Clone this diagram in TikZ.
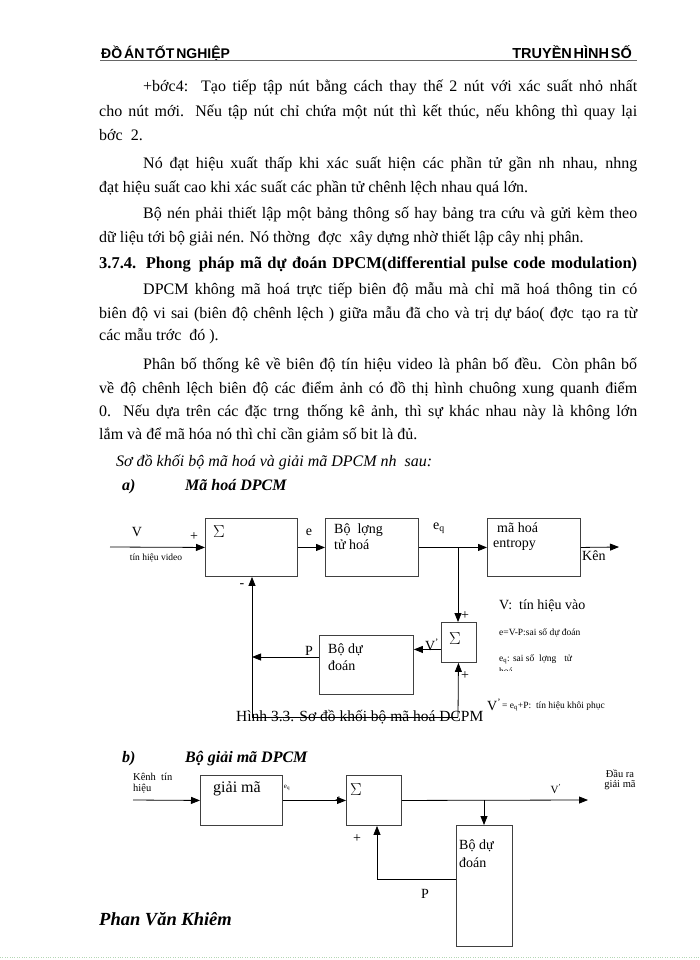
\documentclass[tikz,border=0pt]{standalone}
\usepackage{fontspec}
\setmainfont{Liberation Serif}
\setsansfont{Liberation Sans}
\usetikzlibrary{arrows.meta,calc,positioning}

\newcommand{\gp}{\hspace{8pt}}
\newcommand{\jline}[2]{\hbox to #1pt{\spaceskip=0.25em plus 0.5em minus 0.1em #2}}
\newcommand{\fsz}[1]{\fontsize{#1}{#1}\selectfont}

\begin{document}
\begin{tikzpicture}[x=1pt,y=-1pt,
  arr/.style={-{Triangle[length=9pt,width=7pt]}},
  body/.style={anchor=base west,inner sep=0,font=\fsz{16}},
  blk/.style={draw=black!75,line width=.9pt,anchor=north west,inner sep=0},
  lbl/.style={inner sep=0,font=\fsz{14}},
  small lbl/.style={inner sep=0,font=\fsz{9.5}},
  wire/.style={line width=.8pt,black}]
\useasboundingbox (0,0) rectangle (700,960);

% header
\node[anchor=base west,inner sep=0,font=\sffamily\bfseries\fsz{14}] (hdl) at (101,59) {\spaceskip=.14em ĐỒ ÁN TỐT NGHIỆP};
\node[anchor=base east,inner sep=0,font=\sffamily\bfseries\fsz{14.5}] (hdr) at (632,59) {\spaceskip=.12em TRUYỀN HÌNH SỐ};
\draw[black!60,line width=1.4pt] (100,60.5) -- (637,60.5);

% body text
\node[body] (p1) at (143,92) {\jline{494}{+bớc4:\ \ Tạo tiếp tập nút bằng cách thay thế 2 nút với xác suất nhỏ nhất}};
\node[body] (p2) at (99,117) {\jline{538}{cho nút mới. Nếu tập nút chỉ chứa một nút thì kết thúc, nếu không thì quay lại}};
\node[body] (p3) at (99,141) {bớc\gp 2.};
\node[body] (p4) at (143,169) {\jline{494}{Nó đạt hiệu xuất thấp khi xác suất hiện các phần tử gần nh\gp nhau, nhng}};
\node[body] (p5) at (99,193) {đạt hiệu suất cao khi xác suất các phần tử chênh lệch nhau quá lớn.};
\node[body] (p6) at (143,218) {\jline{494}{Bộ nén phải thiết lập một bảng thông số hay bảng tra cứu và gửi kèm theo}};
\node[body] (p7) at (99,242) {dữ liệu tới bộ giải nén. Nó thờng\gp đợc\gp xây dựng nhờ thiết lập cây nhị phân.};
\node[body,font=\fsz{16.5}\bfseries] (hd) at (99,268) {\jline{538}{3.7.4. Phong\gp pháp mã dự đoán DPCM(differential pulse code modulation)}};
\node[body] (p9) at (143,294) {\jline{494}{DPCM không mã hoá trực tiếp biên độ mẫu mà chỉ mã hoá thông tin có}};
\node[body] (p10) at (99,318) {\jline{538}{biên độ vi sai (biên độ chênh lệch ) giữa mẫu đã cho và trị dự báo( đợc\gp tạo ra từ}};
\node[body] (p11) at (99,340) {các mẫu trớc\gp đó ).};
\node[body] (p12) at (143,369) {\jline{494}{Phân bố thống kê về biên độ tín hiệu video là phân bố đều. Còn phân bố}};
\node[body] (p13) at (99,393) {\jline{538}{về độ chênh lệch biên độ các điểm ảnh có đồ thị hình chuông xung quanh điểm}};
\node[body] (p14) at (99,416) {\jline{538}{0. Nếu dựa trên các đặc trng\gp thống kê ảnh, thì sự khác nhau này là không lớn}};
\node[body] (p15) at (99,439) {lắm và để mã hóa nó thì chỉ cần giảm số bit là đủ.};
\node[body,font=\fsz{16}\itshape] (intro) at (116,466) {Sơ đồ khối bộ mã hoá và giải mã DPCM nh\gp sau:};
\node[body,font=\fsz{16}\bfseries\itshape] (ta) at (122,490) {a)};
\node[body,font=\fsz{16}\bfseries\itshape] (tatitle) at (185,490) {Mã hoá DPCM};

% encoder blocks
\node[blk,minimum width=92,minimum height=58] (sumA) at (205,518) {};
\node[blk,minimum width=93,minimum height=58] (quant) at (325,518) {};
\node[blk,minimum width=93,minimum height=58] (entr) at (487,518) {};
\node[blk,minimum width=35,minimum height=40] (sumB) at (440.5,622) {};
\node[blk,minimum width=94,minimum height=59] (predA) at (319,635) {};

\coordinate (vin) at (110,547);
\coordinate (jq) at (458,547);
\coordinate (kout) at (619,547);
\coordinate (fb) at (252,657);
\coordinate (fbb) at (252,717);
\coordinate (sbb) at (458,717);

\draw[wire,arr] (vin) -- (sumA.west);
\draw[wire,arr] (sumA.east) -- (quant.west);
\draw[wire,arr] (quant.east) -- (entr.west);
\draw[wire,arr] (entr.east) -- (kout);
\draw[wire,arr] (jq) -- (jq |- sumB.north);
\draw[wire,arr] ([yshift=-7pt]sumB.west) -- ([yshift=-7pt]sumB.west -| predA.east);
\draw[wire,arr] (fb -| predA.west) -- (fb);
\draw[wire,arr] (fbb) -- (fbb |- sumA.south);
\draw[wire] (fbb) -- (sbb);
\draw[wire,arr] (sbb) -- (sumB.south);

% encoder labels
\node[lbl] (lV) at (137,532) {V};
\node[lbl] (lpa) at (194,537) {+};
\node[small lbl] (lvid) at (156,558) {tín hiệu video};
\node[lbl,font=\fsz{17}] (sgA) at (219,532) {$\Sigma$};
\node[lbl] (le) at (309,532) {e};
\node[lbl,anchor=west] (lq1) at (334,530) {Bộ\ \ lợng};
\node[lbl,anchor=west] (lq2) at (334,545) {tử hoá};
\node[lbl] (leq) at (439,528) {e\textsubscript{q}};
\node[lbl,anchor=west] (le1) at (497,528) {mã hoá};
\node[lbl,anchor=west] (le2) at (493,545) {entropy};
\node[lbl,anchor=west] (lk) at (582,556) {Kên};
\node[lbl] (lmin) at (242,586) {-};
\node[lbl] (lpt) at (465,616) {+};
\node[lbl] (lpb) at (465,676) {+};
\node[lbl] (lvq) at (432,645) {V\textsuperscript{'}};
\node[lbl,font=\fsz{17}] (sgB) at (455,639) {$\Sigma$};
\node[lbl] (lP) at (309,651) {P};
\node[lbl,anchor=west] (lp1) at (328,650) {Bộ dự};
\node[lbl,anchor=west] (lp2) at (328,666) {đoán};

% legend
\node[lbl,anchor=west] (g1) at (499,606) {V:\ \ tín hiệu vào};
\node[small lbl,anchor=west] (g2) at (499,633) {e=V-P:sai số dự đoán};
\node[small lbl,anchor=west] (g3) at (499,659) {e\textsubscript{q}: sai số\ \ lợng\gp tử};
\begin{scope}
\clip (495,665) rectangle (620,670.5);
\node[small lbl,anchor=west] (g3b) at (499,671) {hoá};
\end{scope}
\node[lbl,anchor=west] (g4v) at (487,705) {V\textsuperscript{'}};
\node[small lbl,anchor=west] (g4) at (502,706) {= e\textsubscript{q}+P:\ \ tín hiệu khôi phục};

% caption
\node[body,font=\fsz{15.5}] (cap) at (236,721) {Hình 3.3. Sơ đồ khối bộ mã hoá DCPM};

% decoder
\node[body,font=\fsz{16}\bfseries\itshape] (tb) at (122,762) {b)};
\node[body,font=\fsz{16}\bfseries\itshape] (tbtitle) at (185,762) {Bộ giải mã DPCM};

\node[blk,minimum width=82,minimum height=50] (dec) at (200,775) {};
\node[blk,minimum width=55,minimum height=50] (sumC) at (346,775) {};
\node[blk,minimum width=56,minimum height=121] (predB) at (456,825) {};

\coordinate (kin) at (133,800);
\coordinate (dout) at (588,800);
\coordinate (jd) at (484,800);
\coordinate (fd) at (377,879);

\draw[wire,arr] (kin) -- (dec.west);
\draw[wire,arr] (dec.east) -- (sumC.west);
\draw[wire,arr] (sumC.east) -- (dout);
\draw[wire,arr] (jd) -- (jd |- predB.north);
\draw[wire,arr] (fd -| predB.west) -- (fd) -- (fd |- sumC.south);

\node[small lbl,anchor=west,font=\fsz{10.5}] (k1) at (133,777) {Kênh\ \ tín};
\node[small lbl,anchor=west,font=\fsz{10.5}] (k2) at (133,789) {hiệu};
\node[lbl,font=\fsz{16}] (ldec) at (237,789) {giải mã};
\node[small lbl,font=\fsz{7}] (leq2) at (287,788) {e\textsubscript{q}};
\node[lbl] (lpc) at (339,801) {+};
\node[lbl,font=\fsz{17}] (sgC) at (356,790) {$\Sigma$};
\node[small lbl,font=\fsz{11}] (lvo) at (556,789) {V\textsuperscript{'}};
\node[small lbl,font=\fsz{10.5},align=center] (dout1) at (620,780) {Đầu ra\\giải mã};
\node[lbl] (lpc2) at (357,839) {+};
\node[lbl,anchor=west] (lb1) at (459,846) {Bộ dự};
\node[lbl,anchor=west] (lb2) at (459,863) {đoán};
\node[lbl] (lP2) at (425,894) {P};

% footer
\node[anchor=west,inner sep=0,font=\fsz{18.5}\bfseries\itshape] (ft) at (99,919) {Phan Văn Khiêm};
\draw[dotted,green!30!gray!45] (0,957) -- (700,957);
\end{tikzpicture}
\end{document}
